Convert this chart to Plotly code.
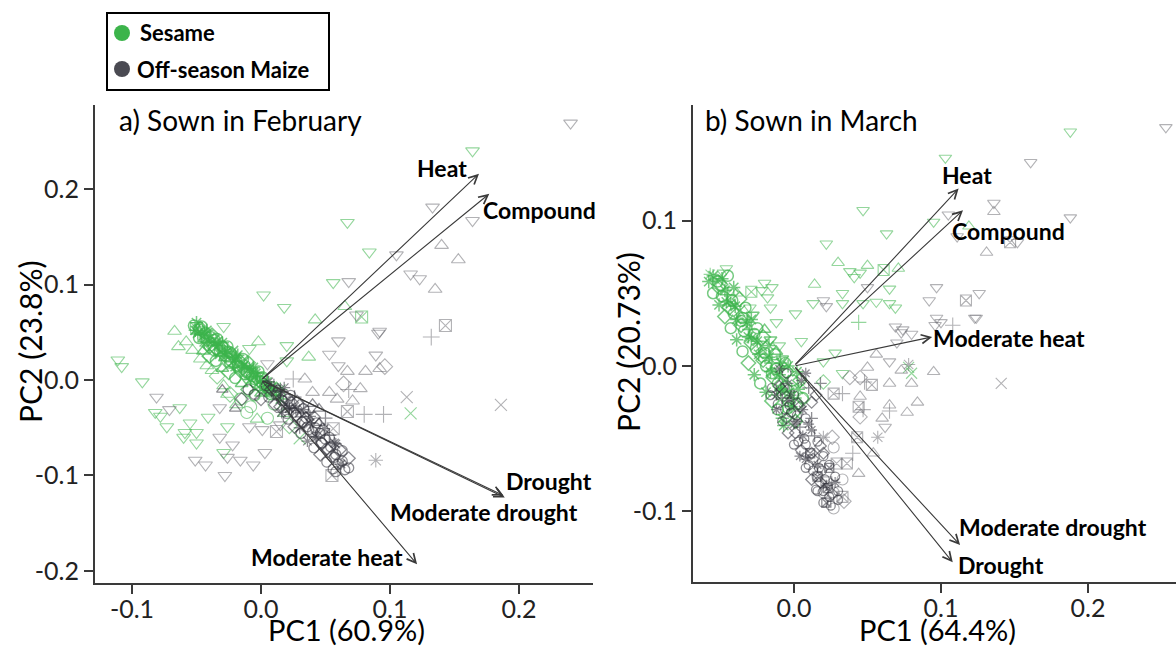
import plotly.graph_objects as go

# ---------------- data ----------------
# point = [PC1, PC2, group]; group = climate-scenario class (drawn with its own symbol)
feb_sesame_scatter = [
    [0.164, 0.240, 1], [0.067, 0.165, 1], [0.084, 0.134, 1], [0.056, 0.102, 1], [0.002, 0.089, 1],
    [0.018, 0.076, 1], [0.065, 0.077, 2], [0.042, 0.063, 2], [0.078, 0.066, 3], [-0.002, 0.040, 2],
    [-0.009, 0.033, 1], [0.020, 0.036, 1], [0.037, 0.024, 2], [-0.029, 0.056, 1], [-0.050, 0.054, 3],
    [-0.067, 0.051, 2], [-0.058, 0.040, 2], [-0.111, 0.021, 1], [-0.108, 0.014, 1], [-0.092, -0.002, 1],
    [-0.082, -0.034, 1], [-0.078, -0.038, 1], [-0.063, -0.029, 1], [-0.073, -0.049, 1], [-0.059, -0.055, 1],
    [-0.055, -0.045, 1], [-0.050, -0.055, 1], [-0.060, -0.060, 1], [-0.050, -0.066, 1], [-0.041, -0.039, 1],
    [-0.026, -0.049, 1], [-0.029, -0.076, 1], [-0.026, -0.015, 2], [-0.003, 0.004, 1], [0.020, 0.020, 1],
    [0.116, -0.035, 5], [0.030, -0.061, 5],
    [-0.064, 0.035, 2], [-0.053, 0.031, 2], [-0.047, 0.022, 2], [-0.042, 0.015, 2], [-0.034, 0.004, 8],
    [-0.029, -0.006, 2], [-0.024, -0.015, 8], [-0.019, -0.026, 2], [-0.011, -0.034, 7], [-0.003, -0.041, 2],
    [-0.038, 0.010, 2], [-0.016, -0.020, 7],
    [0.010, -0.025, 7], [0.018, -0.035, 2], [0.005, -0.040, 7], [0.022, -0.048, 8], [-0.008, -0.028, 7],
    [0.015, -0.010, 6],
]
feb_sesame_dense = [
    [-0.052, 0.057, 7], [-0.049, 0.049, 6], [-0.047, 0.054, 8], [-0.045, 0.046, 5], [-0.043, 0.049, 7],
    [-0.041, 0.039, 4], [-0.040, 0.044, 6], [-0.038, 0.039, 2], [-0.036, 0.042, 7], [-0.035, 0.033, 8],
    [-0.033, 0.036, 6], [-0.031, 0.030, 5], [-0.030, 0.035, 7], [-0.028, 0.028, 4], [-0.026, 0.030, 6],
    [-0.025, 0.022, 8], [-0.023, 0.027, 7], [-0.021, 0.020, 5], [-0.020, 0.023, 6], [-0.018, 0.015, 7],
    [-0.016, 0.019, 8], [-0.015, 0.013, 4], [-0.013, 0.015, 6], [-0.011, 0.008, 7], [-0.010, 0.013, 5],
    [-0.008, 0.006, 8], [-0.006, 0.008, 6], [-0.005, 0.001, 7], [-0.003, 0.004, 4], [-0.001, -0.002, 6],
    [0.000, 0.002, 7], [0.002, -0.005, 8], [0.004, -0.003, 5], [0.006, -0.009, 7], [0.008, -0.008, 6],
    [0.010, -0.013, 2],
    [-0.051, 0.052, 6], [-0.048, 0.053, 7], [-0.046, 0.047, 4], [-0.044, 0.050, 6], [-0.042, 0.042, 8],
    [-0.039, 0.045, 7], [-0.037, 0.036, 5], [-0.034, 0.040, 6], [-0.032, 0.031, 7], [-0.029, 0.034, 8],
    [-0.027, 0.025, 6], [-0.024, 0.029, 7], [-0.022, 0.019, 4], [-0.019, 0.024, 6], [-0.017, 0.014, 7],
    [-0.014, 0.018, 5], [-0.012, 0.010, 8], [-0.009, 0.012, 6], [-0.007, 0.004, 7], [-0.004, 0.007, 6],
    [-0.002, 0.000, 8], [0.001, 0.003, 7], [0.003, -0.007, 6], [0.005, -0.002, 4], [0.007, -0.012, 7],
    [0.012, -0.010, 8], [0.015, -0.020, 6],
    [-0.050, 0.060, 6], [-0.046, 0.056, 7], [-0.042, 0.052, 6], [-0.038, 0.047, 8], [-0.034, 0.043, 7],
    [-0.030, 0.039, 6], [-0.026, 0.035, 7], [-0.022, 0.030, 5], [-0.018, 0.026, 6], [-0.014, 0.022, 7],
    [-0.010, 0.018, 8], [-0.006, 0.013, 6], [-0.002, 0.009, 7],
    [-0.048, 0.044, 7], [-0.044, 0.040, 6], [-0.040, 0.035, 8], [-0.036, 0.031, 7], [-0.032, 0.027, 6],
    [-0.028, 0.023, 2], [-0.024, 0.018, 7], [-0.020, 0.014, 6], [-0.016, 0.010, 8], [-0.012, 0.006, 7],
    [-0.008, 0.001, 6], [-0.004, -0.003, 7], [0.000, -0.007, 8], [0.004, -0.011, 6], [0.008, -0.015, 7],
    [-0.045, 0.030, 2], [-0.040, 0.025, 8], [-0.035, 0.020, 7], [-0.030, 0.012, 2], [-0.025, 0.008, 8],
    [-0.020, 0.002, 7], [-0.015, -0.004, 2], [-0.010, -0.010, 8], [-0.005, -0.016, 7], [0.000, -0.014, 2],
]
feb_maize_scatter = [
    [0.240, 0.269, 1], [0.133, 0.181, 1], [0.164, 0.167, 1], [0.105, 0.131, 1], [0.140, 0.141, 2],
    [0.153, 0.126, 2], [0.116, 0.111, 1], [0.123, 0.106, 1], [0.135, 0.095, 2], [0.068, 0.103, 1],
    [0.074, 0.068, 1], [0.143, 0.057, 3], [0.132, 0.045, 4], [0.091, 0.049, 1], [0.060, 0.041, 1],
    [0.053, 0.027, 1], [0.089, 0.026, 1], [0.096, 0.014, 8], [0.067, 0.009, 2], [0.081, 0.009, 2],
    [0.092, 0.012, 2], [0.060, 0.015, 1], [0.064, -0.004, 8], [0.068, -0.010, 4], [0.077, -0.009, 2],
    [0.071, -0.022, 2], [0.067, -0.033, 3], [0.080, -0.036, 4], [0.113, -0.018, 5], [0.186, -0.026, 5],
    [0.089, -0.084, 6], [0.056, -0.051, 3], [0.055, -0.100, 3], [0.025, 0.001, 4], [0.034, 0.001, 2],
    [0.040, -0.013, 2], [0.053, -0.013, 2], [0.059, -0.020, 2], [0.005, 0.017, 1],
    [-0.081, -0.018, 1], [-0.071, -0.031, 1], [-0.032, -0.029, 1], [-0.009, -0.049, 1], [-0.032, -0.060, 1],
    [-0.022, -0.068, 1], [-0.026, -0.081, 1], [-0.051, -0.084, 1], [-0.043, -0.089, 1], [-0.016, -0.084, 1],
    [-0.006, -0.089, 1], [0.003, -0.076, 1], [-0.028, -0.100, 1], [0.001, -0.052, 1], [0.015, -0.047, 1],
    [0.023, -0.030, 1], [0.012, -0.054, 3], [0.092, 0.051, 1], [0.095, -0.036, 4],
]
feb_maize_dense = [
    [0.004, -0.006, 7], [0.006, -0.002, 6], [0.008, -0.010, 8], [0.010, -0.006, 4], [0.012, -0.016, 7],
    [0.013, -0.009, 2], [0.015, -0.013, 6], [0.016, -0.021, 7], [0.018, -0.017, 8], [0.019, -0.026, 5],
    [0.021, -0.020, 7], [0.022, -0.029, 6], [0.024, -0.024, 8], [0.025, -0.034, 7], [0.026, -0.018, 4],
    [0.027, -0.030, 6], [0.028, -0.039, 7], [0.030, -0.027, 8], [0.031, -0.036, 2], [0.032, -0.044, 7],
    [0.033, -0.031, 6], [0.035, -0.040, 8], [0.036, -0.049, 7], [0.037, -0.034, 4], [0.038, -0.045, 6],
    [0.040, -0.054, 7], [0.041, -0.039, 8], [0.042, -0.050, 7], [0.043, -0.060, 6], [0.045, -0.045, 2],
    [0.046, -0.056, 7], [0.047, -0.066, 8], [0.049, -0.051, 6], [0.050, -0.062, 7], [0.051, -0.072, 8],
    [0.053, -0.058, 4], [0.054, -0.070, 7], [0.055, -0.080, 8], [0.057, -0.066, 6], [0.058, -0.078, 7],
    [0.060, -0.088, 7], [0.061, -0.073, 8], [0.063, -0.085, 7], [0.065, -0.094, 7], [0.045, -0.030, 2],
    [0.050, -0.040, 4], [0.040, -0.025, 2], [0.020, -0.035, 7], [0.015, -0.028, 8], [0.030, -0.050, 6],
    [0.068, -0.092, 7], [0.058, -0.096, 7],
    [-0.010, -0.010, 7], [-0.015, -0.020, 8], [-0.005, -0.015, 7], [-0.020, -0.030, 2], [0.000, -0.020, 8],
    [-0.030, -0.010, 2],
    [0.006, -0.018, 7], [0.011, -0.026, 8], [0.016, -0.034, 6], [0.021, -0.041, 7], [0.026, -0.049, 8],
    [0.031, -0.056, 7], [0.036, -0.064, 6], [0.041, -0.071, 7], [0.046, -0.078, 8], [0.051, -0.086, 7],
    [0.056, -0.093, 7],
    [0.018, -0.008, 6], [0.023, -0.016, 7], [0.028, -0.023, 8], [0.033, -0.030, 7], [0.038, -0.038, 6],
    [0.043, -0.045, 7], [0.048, -0.052, 8], [0.053, -0.060, 7], [0.058, -0.067, 6], [0.063, -0.074, 7],
    [0.068, -0.082, 8],
    [0.012, -0.014, 8], [0.017, -0.022, 7], [0.022, -0.030, 6], [0.027, -0.037, 7], [0.032, -0.044, 8],
    [0.037, -0.052, 7], [0.042, -0.059, 6], [0.047, -0.066, 7], [0.052, -0.074, 8], [0.057, -0.081, 7],
    [0.062, -0.088, 6],
]

mar_sesame_scatter = [
    [0.103, 0.143, 1], [0.047, 0.107, 1], [0.063, 0.091, 1], [0.022, 0.084, 1], [0.095, 0.099, 1],
    [-0.046, 0.067, 1], [-0.048, 0.064, 1], [0.014, 0.056, 2], [0.038, 0.065, 1], [0.041, 0.061, 1],
    [0.045, 0.064, 1], [0.050, 0.069, 2], [0.061, 0.066, 3], [0.071, 0.067, 2], [0.033, 0.050, 1],
    [0.065, 0.053, 1], [-0.020, 0.057, 1], [-0.015, 0.054, 1], [-0.029, 0.051, 3], [-0.022, 0.052, 1],
    [-0.018, 0.047, 1], [-0.016, 0.040, 1], [-0.030, 0.040, 1], [-0.039, 0.050, 2], [0.001, 0.036, 1],
    [-0.012, 0.030, 1], [0.013, 0.043, 1], [0.033, 0.043, 1], [0.047, 0.043, 1], [0.056, 0.044, 1],
    [0.065, 0.043, 1], [0.044, 0.030, 4], [0.069, 0.040, 1], [0.188, 0.161, 1], [0.119, 0.096, 2],
    [0.080, -0.005, 5], [0.005, 0.017, 1], [0.028, 0.009, 1], [0.020, 0.003, 1], [0.033, -0.005, 1],
    [0.020, -0.011, 8], [-0.010, 0.014, 1], [0.005, -0.012, 5], [0.078, -0.001, 5], [0.006, -0.023, 8],
    [-0.057, 0.063, 6], [-0.053, 0.059, 6], [0.030, 0.071, 2],
]
mar_sesame_dense = [
    [-0.055, 0.062, 6], [-0.052, 0.058, 7], [-0.049, 0.060, 6], [-0.051, 0.054, 8], [-0.047, 0.052, 6],
    [-0.049, 0.048, 7], [-0.045, 0.049, 4], [-0.046, 0.044, 6], [-0.042, 0.045, 7], [-0.044, 0.040, 8],
    [-0.040, 0.041, 6], [-0.041, 0.036, 7], [-0.037, 0.038, 5], [-0.039, 0.032, 6], [-0.035, 0.033, 7],
    [-0.036, 0.028, 8], [-0.032, 0.030, 6], [-0.034, 0.024, 7], [-0.030, 0.025, 4], [-0.031, 0.020, 6],
    [-0.027, 0.022, 7], [-0.029, 0.016, 8], [-0.025, 0.017, 6], [-0.026, 0.012, 7], [-0.022, 0.014, 5],
    [-0.024, 0.008, 6], [-0.020, 0.009, 7], [-0.021, 0.004, 8], [-0.017, 0.006, 6], [-0.019, 0.000, 7],
    [-0.015, 0.002, 4], [-0.016, -0.004, 6], [-0.012, -0.002, 7], [-0.014, -0.008, 8], [-0.010, -0.006, 6],
    [-0.011, -0.012, 7], [-0.007, -0.010, 5], [-0.009, -0.016, 6], [-0.005, -0.014, 7], [-0.007, -0.020, 8],
    [-0.003, -0.018, 6], [-0.004, -0.024, 7], [0.000, -0.022, 4], [-0.002, -0.028, 6], [0.002, -0.026, 7],
    [0.000, -0.032, 8], [-0.012, 0.010, 2], [-0.008, 0.005, 1], [-0.004, 0.000, 6], [-0.016, 0.018, 1],
    [-0.020, 0.025, 2], [-0.028, 0.035, 1], [0.004, -0.010, 8], [0.002, -0.004, 6], [-0.006, 0.002, 7],
    [-0.058, 0.058, 6], [-0.055, 0.050, 7], [-0.051, 0.042, 6], [-0.047, 0.034, 8], [-0.043, 0.026, 7],
    [-0.039, 0.018, 6], [-0.035, 0.010, 7], [-0.031, 0.002, 8], [-0.027, -0.006, 6], [-0.023, -0.012, 7],
    [-0.019, -0.018, 6], [-0.015, -0.024, 8], [-0.011, -0.030, 7], [-0.008, -0.036, 6],
    [-0.045, 0.062, 7], [-0.041, 0.054, 6], [-0.037, 0.046, 8], [-0.033, 0.040, 7], [-0.029, 0.032, 6],
    [-0.025, 0.026, 7], [-0.021, 0.020, 8], [-0.017, 0.014, 6], [-0.013, 0.008, 7], [-0.009, 0.002, 6],
    [-0.005, -0.004, 8], [-0.001, -0.010, 7], [0.003, -0.016, 6], [0.006, -0.022, 7],
    [-0.050, 0.056, 8], [-0.043, 0.043, 6], [-0.036, 0.031, 7], [-0.029, 0.019, 6], [-0.022, 0.007, 8],
    [-0.015, -0.005, 7], [-0.009, -0.017, 6], [-0.004, -0.029, 7], [0.001, -0.038, 8], [-0.007, -0.041, 6],
]
mar_maize_scatter = [
    [0.253, 0.164, 1], [0.161, 0.140, 1], [0.136, 0.112, 1], [0.136, 0.106, 2], [0.188, 0.102, 1],
    [0.105, 0.104, 1], [0.111, 0.089, 1], [0.147, 0.085, 3], [0.152, 0.085, 1], [0.131, 0.078, 2],
    [0.097, 0.054, 1], [0.092, 0.045, 1], [0.117, 0.045, 3], [0.126, 0.050, 1], [0.124, 0.033, 1],
    [0.100, 0.030, 1], [0.096, 0.028, 1], [0.108, 0.028, 4], [0.069, 0.027, 1], [0.074, 0.025, 1],
    [0.080, 0.022, 1], [0.050, 0.054, 1], [0.020, 0.045, 1], [0.022, 0.041, 1], [0.073, 0.023, 1],
    [0.070, 0.016, 1], [0.097, 0.033, 1], [0.123, 0.033, 1], [0.056, 0.008, 2], [0.073, -0.003, 2],
    [0.065, 0.003, 1], [0.078, 0.001, 6], [0.095, -0.004, 2], [0.045, -0.008, 8], [0.053, -0.013, 3],
    [0.048, -0.011, 4], [0.065, -0.012, 2], [0.080, -0.012, 2], [0.050, -0.001, 2], [0.038, -0.008, 8],
    [0.027, -0.019, 3], [0.033, -0.019, 4], [0.044, -0.028, 3], [0.047, -0.030, 4], [0.045, -0.035, 8],
    [0.045, -0.021, 2], [0.065, -0.027, 2], [0.065, -0.031, 4], [0.077, -0.032, 2], [0.084, -0.025, 2],
    [0.062, -0.042, 1], [0.057, -0.049, 6], [0.054, -0.060, 2], [0.044, -0.074, 2], [0.043, -0.049, 3],
    [0.040, -0.060, 4], [0.026, -0.049, 8], [0.020, -0.049, 6], [0.027, -0.056, 7], [0.036, -0.067, 3],
    [0.029, -0.067, 3], [0.033, -0.078, 7], [0.022, -0.080, 3], [0.016, -0.076, 7], [0.020, -0.087, 7],
    [0.027, -0.087, 7], [0.033, -0.090, 3], [0.034, -0.093, 8], [0.027, -0.098, 7], [0.141, -0.012, 5],
    [0.060, -0.036, 2],
]
mar_maize_dense = [
    [-0.015, -0.015, 7], [-0.012, -0.020, 6], [-0.010, -0.014, 8], [-0.011, -0.026, 7], [-0.008, -0.022, 4],
    [-0.006, -0.030, 7], [-0.004, -0.024, 6], [-0.005, -0.036, 8], [-0.002, -0.032, 7], [0.000, -0.040, 6],
    [0.002, -0.034, 7], [0.001, -0.046, 8], [0.004, -0.042, 4], [0.003, -0.052, 7], [0.006, -0.048, 6],
    [0.005, -0.058, 8], [0.008, -0.054, 7], [0.008, -0.064, 6], [0.011, -0.060, 3], [0.010, -0.068, 7],
    [0.013, -0.064, 8], [0.013, -0.072, 7], [0.016, -0.068, 6], [0.016, -0.076, 3], [0.019, -0.072, 7],
    [0.018, -0.080, 8], [0.021, -0.078, 7], [0.020, -0.086, 7], [0.023, -0.084, 3], [0.024, -0.090, 7],
    [0.026, -0.088, 8], [0.025, -0.096, 7], [0.010, -0.040, 6], [0.014, -0.048, 4], [0.018, -0.055, 8],
    [0.006, -0.030, 6], [0.012, -0.036, 4], [0.020, -0.062, 7], [0.024, -0.070, 3], [0.028, -0.076, 7],
    [0.015, -0.085, 7], [0.022, -0.094, 3], [0.030, -0.092, 7], [-0.002, -0.020, 6], [0.003, -0.026, 8],
    [0.005, -0.010, 6], [0.010, -0.015, 4], [0.015, -0.020, 8], [0.008, -0.005, 6], [0.018, -0.012, 4],
    [0.012, -0.025, 8], [-0.005, -0.005, 7], [-0.010, -0.002, 6],
    [-0.016, -0.020, 7], [-0.012, -0.030, 6], [-0.008, -0.038, 7], [-0.004, -0.046, 8], [0.000, -0.054, 7],
    [0.004, -0.062, 6], [0.008, -0.070, 7], [0.012, -0.078, 8], [0.016, -0.086, 7], [0.020, -0.094, 7],
    [-0.004, -0.012, 6], [0.000, -0.020, 7], [0.004, -0.028, 8], [0.008, -0.036, 7], [0.012, -0.044, 6],
    [0.016, -0.052, 7], [0.020, -0.060, 8], [0.024, -0.068, 7], [0.028, -0.080, 6], [0.030, -0.086, 7],
    [-0.008, -0.016, 8], [-0.003, -0.027, 7], [0.002, -0.038, 6], [0.007, -0.050, 7], [0.012, -0.060, 8],
    [0.017, -0.070, 7], [0.022, -0.082, 6],
]

# loading vectors (arrow tips) and their labels
feb_vars = ["Heat", "Compound", "Drought", "Moderate drought", "Moderate heat"]
feb_load_pc1 = [0.169, 0.177, 0.189, 0.188, 0.121]
feb_load_pc2 = [0.216, 0.195, -0.123, -0.121, -0.193]
feb_lab_pc1 = [0.140, 0.216, 0.223, 0.173, 0.051]
feb_lab_pc2 = [0.222, 0.178, -0.106, -0.138, -0.185]

mar_vars = ["Heat", "Compound", "Moderate heat", "Moderate drought", "Drought"]
mar_load_pc1 = [0.112, 0.115, 0.094, 0.113, 0.108]
mar_load_pc2 = [0.122, 0.107, 0.020, -0.123, -0.135]
mar_lab_pc1 = [0.118, 0.146, 0.146, 0.176, 0.141]
mar_lab_pc2 = [0.131, 0.093, 0.019, -0.111, -0.137]

tick_vals_a_x = [-0.1, 0.0, 0.1, 0.2]
tick_text_a_x = ["-0.1", "0.0", "0.1", "0.2"]
tick_vals_a_y = [-0.2, -0.1, 0.0, 0.1, 0.2]
tick_text_a_y = ["-0.2", "-0.1", "0.0", "0.1", "0.2"]
tick_vals_b_x = [0.0, 0.1, 0.2]
tick_text_b_x = ["0.0", "0.1", "0.2"]
tick_vals_b_y = [-0.1, 0.0, 0.1]
tick_text_b_y = ["-0.1", "0.0", "0.1"]

crops = ["Sesame", "Off-season Maize"]
panel_titles = ["a) Sown in February", "b) Sown in March"]
axis_titles = ["PC1 (60.9%)", "PC2 (23.8%)", "PC1 (64.4%)", "PC2 (20.73%)"]

# ---------------- styling ----------------
W, H = 1176, 649
FONT = "Lato"
GREEN = "rgba(60,180,75,0.55)"
GREEN_D = "rgba(60,180,75,0.70)"
GRAY = "rgba(95,95,100,0.48)"
GRAY_D = "rgba(50,50,58,0.55)"
SYMBOLS = {1: "triangle-down-open", 2: "triangle-up-open", 3: "square-x-open", 4: "cross-thin-open",
           5: "x-thin-open", 6: "asterisk-open", 7: "circle-open", 8: "diamond-open"}

fig = go.Figure()


def add_points(pts, color, xa, ya, size, lw=1.1):
    fig.add_trace(go.Scatter(
        x=[p[0] for p in pts], y=[p[1] for p in pts], mode="markers",
        xaxis=xa, yaxis=ya, showlegend=False, hoverinfo="skip",
        marker=dict(symbol=[SYMBOLS[p[2]] for p in pts], size=size, color=color,
                    line=dict(color=color, width=lw))))


add_points(feb_sesame_scatter, GREEN, "x", "y", 12)
add_points(feb_sesame_dense, GREEN_D, "x", "y", 11, 1.5)
add_points(feb_maize_scatter, GRAY, "x", "y", 12)
add_points(feb_maize_dense, GRAY_D, "x", "y", 10, 1.3)
add_points(mar_sesame_scatter, GREEN, "x2", "y2", 11)
add_points(mar_sesame_dense, GREEN_D, "x2", "y2", 11, 1.5)
add_points(mar_maize_scatter, GRAY, "x2", "y2", 11)
add_points(mar_maize_dense, GRAY_D, "x2", "y2", 9, 1.3)

ann = []
for names, px, py, lx, ly, xr, yr in [
    (feb_vars, feb_load_pc1, feb_load_pc2, feb_lab_pc1, feb_lab_pc2, "x", "y"),
    (mar_vars, mar_load_pc1, mar_load_pc2, mar_lab_pc1, mar_lab_pc2, "x2", "y2"),
]:
    for n, a, b, c, d in zip(names, px, py, lx, ly):
        ann.append(dict(x=a, y=b, ax=0, ay=0, xref=xr, yref=yr, axref=xr, ayref=yr,
                        showarrow=True, arrowhead=5, arrowsize=1.6, arrowwidth=1.1,
                        arrowcolor="#3a3a3a", text=""))
        ann.append(dict(x=c, y=d, xref=xr, yref=yr, text="<b>%s</b>" % n, showarrow=False,
                        font=dict(family=FONT, size=23, color="black"),
                        xanchor="center", yanchor="middle"))

# panel titles
ann.append(dict(x=117 / W, y=1 - 120 / H, xref="paper", yref="paper", text=panel_titles[0],
                showarrow=False, xanchor="left", yanchor="middle",
                font=dict(family=FONT, size=28, color="black")))
ann.append(dict(x=703 / W, y=1 - 120 / H, xref="paper", yref="paper", text=panel_titles[1],
                showarrow=False, xanchor="left", yanchor="middle",
                font=dict(family=FONT, size=28, color="black")))
# axis titles
for txt, x in [(axis_titles[0], 346), (axis_titles[2], 937)]:
    ann.append(dict(x=x / W, y=0, xref="paper", yref="paper", text=txt, showarrow=False,
                    xanchor="center", yanchor="bottom",
                    font=dict(family=FONT, size=29, color="black")))
for txt, x in [(axis_titles[1], 30), (axis_titles[3], 628)]:
    ann.append(dict(x=x / W, y=1 - 342 / H, xref="paper", yref="paper", text=txt, showarrow=False,
                    textangle=-90, xanchor="center", yanchor="middle",
                    font=dict(family=FONT, size=30, color="black")))

# legend (drawn manually)
shapes = [dict(type="rect", xref="paper", yref="paper", x0=107 / W, x1=329 / W, y0=1 - 90 / H, y1=1 - 13 / H,
               line=dict(color="black", width=2), fillcolor="white")]
for cy, col in [(33, "#3cb44b"), (69, "#4a4a52")]:
    shapes.append(dict(type="circle", xref="paper", yref="paper", x0=114 / W, x1=130 / W,
                       y0=1 - (cy + 8) / H, y1=1 - (cy - 8) / H, line=dict(width=0), fillcolor=col))
ann.append(dict(x=138 / W, y=1 - 33 / H, xref="paper", yref="paper", text="<b>%s</b>" % crops[0],
                showarrow=False, xanchor="left", yanchor="middle",
                font=dict(family=FONT, size=22, color="black")))
ann.append(dict(x=135 / W, y=1 - 69 / H, xref="paper", yref="paper", text="<b>%s</b>" % crops[1],
                showarrow=False, xanchor="left", yanchor="middle",
                font=dict(family=FONT, size=22, color="black")))

axis_common = dict(showgrid=False, zeroline=False, showline=True, linecolor="#3a3a3a", linewidth=2,
                   ticks="outside", ticklen=9, tickwidth=1.5, tickcolor="#3a3a3a",
                   tickfont=dict(family=FONT, size=25, color="#222"), automargin=False)

fig.update_layout(
    width=W, height=H, margin=dict(l=0, r=0, t=0, b=0),
    paper_bgcolor="white", plot_bgcolor="white",
    annotations=ann, shapes=shapes, showlegend=False,
    xaxis=dict(domain=[95 / W, 593 / W], range=[-0.1287, 0.2574], anchor="y",
               tickvals=tick_vals_a_x, ticktext=tick_text_a_x, ticklabelstandoff=-6, **axis_common),
    yaxis=dict(domain=[66 / H, 544 / H], range=[-0.2126, 0.288], anchor="x",
               tickvals=tick_vals_a_y, ticktext=tick_text_a_y, **axis_common),
    xaxis2=dict(domain=[693 / W, 1.0], range=[-0.0687, 0.2599], anchor="y2",
                tickvals=tick_vals_b_x, ticktext=tick_text_b_x, ticklabelstandoff=-6, **axis_common),
    yaxis2=dict(domain=[67 / H, 544 / H], range=[-0.1485, 0.1794], anchor="x2",
                tickvals=tick_vals_b_y, ticktext=tick_text_b_y, **axis_common),
)

fig.write_html("out.html", config={"displayModeBar": False},
               post_script="document.body.style.margin='0';document.body.style.overflow='hidden';")
